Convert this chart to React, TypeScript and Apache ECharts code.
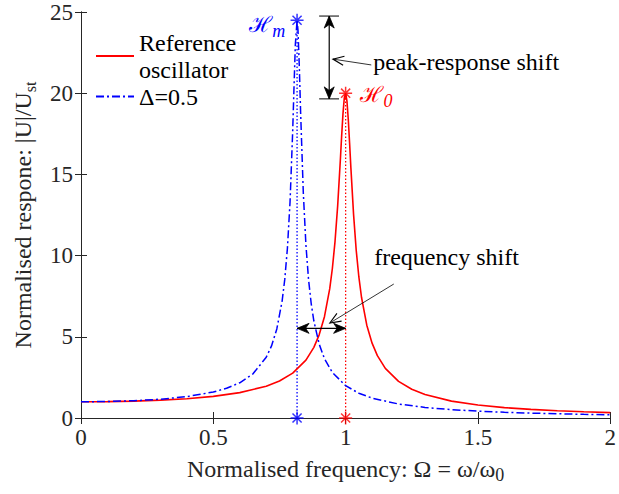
import React, { useEffect, useRef } from "react";
import * as echarts from "echarts";

// Reference oscillator
const refOmega = [0, 0.1, 0.2, 0.3, 0.4, 0.5, 0.6, 0.7, 0.75, 0.8, 0.85, 0.88, 0.9, 0.92, 0.94, 0.95, 0.96, 0.97, 0.98, 0.985, 0.99, 0.995, 1.0, 1.005, 1.01, 1.015, 1.02, 1.03, 1.04, 1.05, 1.06, 1.08, 1.1, 1.12, 1.15, 1.2, 1.25, 1.3, 1.4, 1.5, 1.6, 1.7, 1.8, 1.9, 2.0];
const refResp = [1.0, 1.01, 1.042, 1.099, 1.19, 1.333, 1.562, 1.956, 2.277, 2.761, 3.562, 4.35, 5.121, 6.237, 7.966, 9.22, 10.88, 13.08, 15.87, 17.38, 18.74, 19.71, 20.0, 19.52, 18.4, 16.93, 15.37, 12.54, 10.33, 8.684, 7.436, 5.716, 4.607, 3.839, 3.053, 2.252, 1.767, 1.443, 1.039, 0.799, 0.64, 0.529, 0.446, 0.383, 0.333];

// Modified oscillator, Δ = 0.5
const modOmega = [0, 0.1, 0.2, 0.3, 0.4, 0.5, 0.55, 0.6, 0.65, 0.7, 0.72, 0.74, 0.76, 0.77, 0.78, 0.79, 0.8, 0.805, 0.81, 0.8165, 0.82, 0.825, 0.83, 0.84, 0.85, 0.86, 0.87, 0.88, 0.9, 0.92, 0.95, 1.0, 1.05, 1.1, 1.2, 1.3, 1.4, 1.5, 1.6, 1.7, 1.8, 1.9, 2.0];
const modResp = [1.0, 1.015, 1.064, 1.156, 1.316, 1.6, 1.828, 2.169, 2.72, 3.741, 4.439, 5.483, 7.2, 8.536, 10.45, 13.32, 17.68, 20.4, 22.99, 24.49, 23.87, 21.62, 18.78, 13.9, 10.65, 8.507, 7.034, 5.971, 4.553, 3.656, 2.802, 1.99, 1.525, 1.224, 0.861, 0.651, 0.515, 0.421, 0.352, 0.3, 0.259, 0.227, 0.2];

const peakRef = [1.0, 20.0];
const peakMod = [0.8165, 24.49];

// Annotation arrows: [x1, y1, x2, y2, headAtStart, headAtEnd, headKind (0 solid, 1 open), lineWidth]
const arrowSegments = [
  [0.938, 19.65, 0.938, 24.75, 1, 1, 0, 1.2],
  [0.9, 24.75, 0.975, 24.75, 0, 0, 0, 1],
  [0.9, 19.65, 0.975, 19.65, 0, 0, 0, 1],
  [0.8165, 5.52, 1.0, 5.52, 1, 1, 0, 1.2],
  [1.097, 21.74, 0.952, 22.1, 0, 1, 1, 0.8],
  [1.182, 8.25, 0.9405, 5.85, 0, 1, 1, 0.8],
];

// Annotation texts: [x, y, align (0 left, 1 right)]
const textAnchors = [
  [1.104, 21.95, 0],
  [1.108, 9.9, 0],
  [0.772, 24.2, 1],
  [1.056, 19.9, 0],
];
const textContents = ["peak-response shift", "frequency shift", "{h|ℋ}{s|m}", "{h|ℋ}{s|0}"];
const textColors = ["#000000", "#000000", "#0000ff", "#ff0000"];

const xTickInterval = 0.5;
const yTickInterval = 5;

const FONT = "'Liberation Serif', 'Times New Roman', Times, serif";
const AX = "#262626";
const STAR = "path://M0,-10L0,10M-10,0L10,0M-7,-7L7,7M-7,7L7,-7";

function buildOption() {
  const axisCommon = {
    axisLine: { show: true, lineStyle: { color: AX, width: 1 } },
    axisTick: { show: true, inside: true, length: 6, lineStyle: { color: AX, width: 1 } },
    splitLine: { show: false },
  };
  return {
    animation: false,
    backgroundColor: "#ffffff",
    textStyle: { fontFamily: FONT },
    grid: { left: 77, right: 4, top: 12, bottom: 76, containLabel: false, show: false },
    legend: {
      data: ["Reference\noscillator", "Δ=0.5"],
      orient: "vertical",
      left: 95,
      top: 29,
      padding: 0,
      itemGap: 0,
      itemWidth: 38,
      itemHeight: 14,
      selectedMode: false,
      itemStyle: { opacity: 0 },
      textStyle: { fontFamily: FONT, fontSize: 24, color: "#000", lineHeight: 27 },
    },
    xAxis: [
      {
        type: "value",
        min: 0,
        max: 2,
        interval: xTickInterval,
        ...axisCommon,
        axisLabel: { color: AX, fontFamily: FONT, fontSize: 23, margin: 8 },
        name: "Normalised frequency: Ω = ω/ω{sub|0}",
        nameLocation: "middle",
        nameGap: 33,
        nameTextStyle: {
          color: AX,
          fontFamily: FONT,
          fontSize: 24,
          lineHeight: 30,
          rich: { sub: { fontFamily: FONT, fontSize: 18, color: AX, verticalAlign: "bottom", lineHeight: 10 } },
        },
      },
      {
        type: "value",
        position: "top",
        min: 0,
        max: 2,
        interval: xTickInterval,
        ...axisCommon,
        axisLabel: { show: false },
      },
    ],
    yAxis: [
      {
        type: "value",
        min: 0,
        max: 25,
        interval: yTickInterval,
        ...axisCommon,
        axisLabel: { color: AX, fontFamily: FONT, fontSize: 23, margin: 8 },
        name: "Normalised respone: |U|/U{sub|st}",
        nameLocation: "middle",
        nameGap: 43,
        nameTextStyle: {
          color: AX,
          fontFamily: FONT,
          fontSize: 24,
          lineHeight: 30,
          rich: { sub: { fontFamily: FONT, fontSize: 16, color: AX, verticalAlign: "bottom", lineHeight: 14 } },
        },
      },
      {
        type: "value",
        position: "right",
        min: 0,
        max: 25,
        interval: yTickInterval,
        ...axisCommon,
        axisLabel: { show: false },
      },
    ],
    series: [
      {
        name: "Reference\noscillator",
        type: "line",
        data: refOmega.map((w, i) => [w, refResp[i]]),
        symbol: "none",
        lineStyle: { color: "#ff0000", width: 1.6 },
        itemStyle: { color: "#ff0000" },
        z: 3,
      },
      {
        name: "Δ=0.5",
        type: "line",
        data: modOmega.map((w, i) => [w, modResp[i]]),
        symbol: "none",
        lineStyle: { color: "#0000ff", width: 1.5, type: [8, 3, 2, 3] },
        itemStyle: { color: "#0000ff" },
        z: 3,
      },
      {
        name: "refDrop",
        type: "line",
        data: [[peakRef[0], 0], [peakRef[0], peakRef[1]]],
        symbol: "none",
        silent: true,
        lineStyle: { color: "#ff0000", width: 1.3, type: [1.5, 2] },
        z: 2,
      },
      {
        name: "modDrop",
        type: "line",
        data: [[peakMod[0], 0], [peakMod[0], peakMod[1]]],
        symbol: "none",
        silent: true,
        lineStyle: { color: "#0000ff", width: 1.3, type: [1.5, 2] },
        z: 2,
      },
      {
        name: "refStars",
        type: "scatter",
        data: [[peakRef[0], peakRef[1]], [peakRef[0], 0]],
        symbol: STAR,
        symbolSize: 13,
        clip: false,
        silent: true,
        itemStyle: { color: "rgba(0,0,0,0)", borderColor: "#ff0000", borderWidth: 1.5 },
        z: 5,
      },
      {
        name: "modStars",
        type: "scatter",
        data: [[peakMod[0], peakMod[1]], [peakMod[0], 0]],
        symbol: STAR,
        symbolSize: 13,
        clip: false,
        silent: true,
        itemStyle: { color: "rgba(0,0,0,0)", borderColor: "#0000ff", borderWidth: 1.5 },
        z: 5,
      },
      {
        name: "arrows",
        type: "custom",
        silent: true,
        clip: false,
        data: arrowSegments,
        encode: { x: [0, 2], y: [1, 3] },
        z: 6,
        renderItem: (params: any, api: any) => {
          const p1 = api.coord([api.value(0), api.value(1)]);
          const p2 = api.coord([api.value(2), api.value(3)]);
          const hs = api.value(4);
          const he = api.value(5);
          const kind = api.value(6);
          const lw = api.value(7);
          const children: any[] = [
            {
              type: "line",
              shape: { x1: p1[0], y1: p1[1], x2: p2[0], y2: p2[1] },
              style: { stroke: "#000", lineWidth: lw },
            },
          ];
          const head = (tip: number[], from: number[]) => {
            const dx = tip[0] - from[0];
            const dy = tip[1] - from[1];
            const len = Math.hypot(dx, dy) || 1;
            const ux = dx / len;
            const uy = dy / len;
            const nx = -uy;
            const ny = ux;
            if (kind === 0) {
              const L = 12, W = 5, N = 3.5;
              children.push({
                type: "polygon",
                shape: {
                  points: [
                    [tip[0], tip[1]],
                    [tip[0] - L * ux + W * nx, tip[1] - L * uy + W * ny],
                    [tip[0] - (L - N) * ux, tip[1] - (L - N) * uy],
                    [tip[0] - L * ux - W * nx, tip[1] - L * uy - W * ny],
                  ],
                },
                style: { fill: "#000", stroke: "#000", lineWidth: 0.8 },
              });
            } else {
              const L = 11, W = 4.5;
              children.push({
                type: "polyline",
                shape: {
                  points: [
                    [tip[0] - L * ux + W * nx, tip[1] - L * uy + W * ny],
                    [tip[0], tip[1]],
                    [tip[0] - L * ux - W * nx, tip[1] - L * uy - W * ny],
                  ],
                },
                style: { fill: "none", stroke: "#000", lineWidth: 1.1 },
              });
            }
          };
          if (hs) head(p1, p2);
          if (he) head(p2, p1);
          return { type: "group", children };
        },
      },
      {
        name: "texts",
        type: "custom",
        silent: true,
        clip: false,
        data: textAnchors,
        encode: { x: 0, y: 1 },
        z: 7,
        renderItem: (params: any, api: any) => {
          const i = params.dataIndex;
          const p = api.coord([api.value(0), api.value(1)]);
          const color = textColors[i];
          return {
            type: "text",
            x: p[0],
            y: p[1],
            style: {
              text: textContents[i],
              fill: color,
              fontFamily: FONT,
              fontSize: 24,
              align: api.value(2) === 1 ? "right" : "left",
              verticalAlign: "middle",
              rich: {
                h: { fontFamily: "DejaVu Serif", fontSize: 22, fill: color, lineHeight: 30 },
                s: { fontFamily: FONT, fontSize: 18, fill: color, fontStyle: "italic", verticalAlign: "bottom", lineHeight: 14 },
              },
            },
          };
        },
      },
    ],
  };
}

export default function App() {
  const ref = useRef<HTMLDivElement>(null);
  useEffect(() => {
    if (!ref.current) return;
    const chart = echarts.init(ref.current, null, { renderer: "svg" });
    chart.setOption(buildOption() as any);
    return () => chart.dispose();
  }, []);
  return (
    <div
      ref={ref}
      style={{ position: "fixed", left: 0, top: 0, width: 619, height: 494, background: "#ffffff" }}
    />
  );
}
